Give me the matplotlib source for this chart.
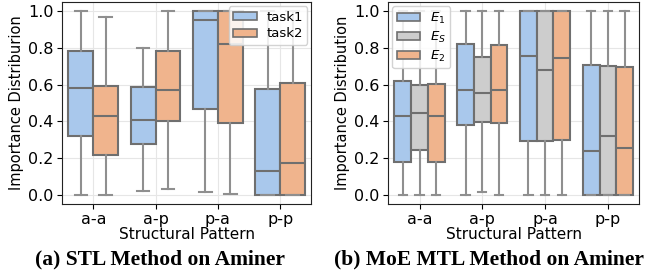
import numpy as np
import matplotlib
matplotlib.use("Agg")
import matplotlib.pyplot as plt
from matplotlib.patches import Patch

plt.rcParams.update({"font.family": "DejaVu Sans", "font.size": 10.5,
                     "xtick.labelsize": 11.5, "ytick.labelsize": 11.5})

patterns = ["a-a", "a-p", "p-a", "p-p"]

# (whislo, q1, median, q3, whishi) per pattern
stl_task1 = [(0.0, 0.32, 0.584, 0.781, 1.0),
             (0.02, 0.277, 0.41, 0.586, 0.80),
             (0.015, 0.465, 0.953, 1.0, 1.0),
             (0.0, 0.0, 0.132, 0.577, 1.0)]
stl_task2 = [(0.0, 0.215, 0.427, 0.595, 0.967),
             (0.033, 0.401, 0.571, 0.785, 1.0),
             (0.007, 0.389, 0.823, 1.0, 1.0),
             (0.0, 0.0, 0.175, 0.611, 1.0)]

moe_e1 = [(0.0, 0.177, 0.43, 0.62, 1.0),
          (0.0, 0.378, 0.57, 0.823, 1.0),
          (0.0, 0.293, 0.758, 1.0, 1.0),
          (0.0, 0.0, 0.24, 0.705, 1.0)]
moe_es = [(0.0, 0.244, 0.447, 0.60, 1.0),
          (0.0145, 0.398, 0.552, 0.752, 1.0),
          (0.0, 0.295, 0.678, 1.0, 1.0),
          (0.0, 0.0, 0.32, 0.70, 1.0)]
moe_e2 = [(0.0, 0.181, 0.43, 0.602, 1.0),
          (0.0, 0.394, 0.57, 0.817, 1.0),
          (0.0, 0.298, 0.745, 1.0, 1.0),
          (0.0, 0.0, 0.253, 0.698, 1.0)]

BLUE, ORANGE, GREY = "#a9c8ec", "#f0b48d", "#cdcdcd"
EDGE, WHISK = "#6f6f6f", "#8f8f8f"


def draw(ax, series, colors):
    n = len(series)
    w = 0.8 / n
    for k, (vals, col) in enumerate(zip(series, colors)):
        stats = [{"whislo": s[0], "q1": s[1], "med": s[2], "q3": s[3],
                  "whishi": s[4]} for s in vals]
        pos = np.arange(len(patterns)) - 0.4 + w * (k + 0.5)
        ax.bxp(stats, positions=pos, widths=w, showfliers=False,
               patch_artist=True, manage_ticks=False,
               boxprops=dict(facecolor=col, edgecolor=EDGE, lw=1.5),
               medianprops=dict(color=EDGE, lw=1.5),
               whiskerprops=dict(color=WHISK, lw=1.5),
               capprops=dict(color=WHISK, lw=1.5),
               capwidths=w / 2, zorder=2)
    ax.set_xlim(-0.5, 3.5)
    ax.set_ylim(-0.05, 1.05)
    ax.set_xticks(range(len(patterns)))
    ax.set_xticklabels(patterns)
    ax.set_yticks(np.arange(0, 1.01, 0.2))
    ax.tick_params(pad=2.5)
    ax.grid(color="#e6e6e6", lw=0.8, zorder=0)
    ax.set_axisbelow(True)
    for sp in ax.spines.values():
        sp.set_color("#222222")
    ax.set_xlabel("Structural Pattern", fontsize=11, labelpad=0)
    return [Patch(facecolor=c, edgecolor=EDGE, lw=1.2) for c in colors]


fig = plt.figure(figsize=(6.68, 2.8), dpi=100)
ax1 = fig.add_axes([0.093, 0.271, 0.373, 0.722])
ax2 = fig.add_axes([0.581, 0.271, 0.376, 0.722])

legkw = dict(framealpha=0.85, fontsize=9.5, handlelength=1.8,
             handleheight=0.6, borderpad=0.35, labelspacing=0.3,
             handletextpad=0.7, borderaxespad=0.3)

h1 = draw(ax1, [stl_task1, stl_task2], [BLUE, ORANGE])
ax1.set_ylabel("Importance Distriburion", labelpad=3)
ax1.legend(h1, ["task1", "task2"], loc="upper right", **legkw)

h2 = draw(ax2, [moe_e1, moe_es, moe_e2], [BLUE, GREY, ORANGE])
ax2.set_ylabel("Importance Distribution", labelpad=3)
ax2.legend(h2, ["$E_1$", "$E_S$", "$E_2$"], loc="upper left", **legkw)

fig.text(0.24, 0.075, "(a) STL Method on Aminer", ha="center", va="center",
         family="Liberation Serif", weight="bold", fontsize=15.5)
fig.text(0.732, 0.075, "(b) MoE MTL Method on Aminer", ha="center",
         va="center", family="Liberation Serif", weight="bold", fontsize=15.5)

fig.savefig("out.png", dpi=100)
